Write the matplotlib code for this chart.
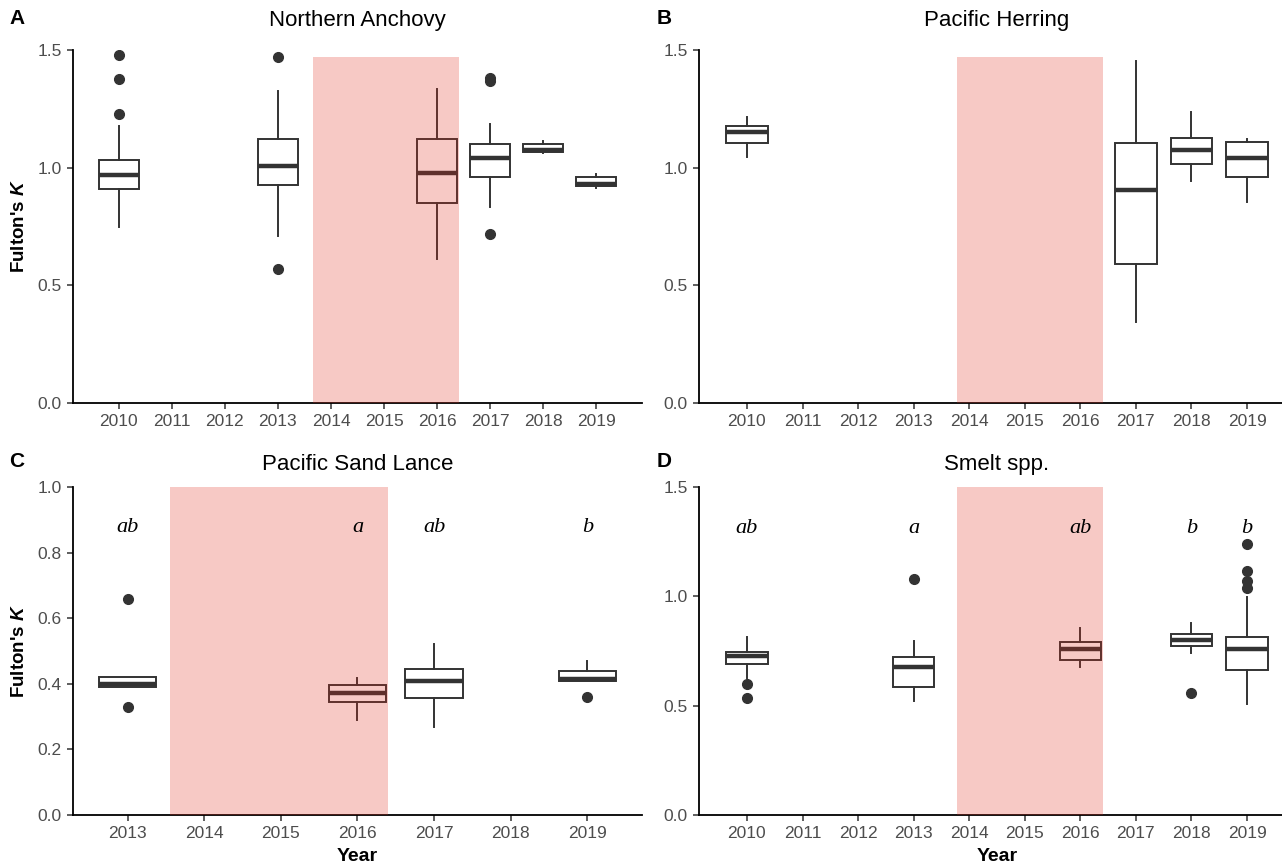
import matplotlib
matplotlib.use("Agg")
import matplotlib.pyplot as plt
from matplotlib.patches import Rectangle

plt.rcParams['font.family'] = ['Liberation Sans', 'DejaVu Sans']
plt.rcParams['mathtext.fontset'] = 'custom'
plt.rcParams['mathtext.bfit'] = 'Liberation Sans:italic:bold'
plt.rcParams['mathtext.it'] = 'Liberation Sans:italic'
plt.rcParams['mathtext.bf'] = 'Liberation Sans:bold'

# ---------------- data ----------------
# A: Northern Anchovy
anch_years = [2010, 2013, 2016, 2017, 2018, 2019]
anch_q1 = [0.910, 0.928, 0.849, 0.959, 1.068, 0.924]
anch_med = [0.969, 1.008, 0.979, 1.039, 1.077, 0.932]
anch_q3 = [1.031, 1.120, 1.120, 1.099, 1.099, 0.961]
anch_lo = [0.749, 0.711, 0.611, 0.831, 1.061, 0.913]
anch_hi = [1.176, 1.327, 1.335, 1.186, 1.115, 0.975]
anch_out = [[1.479, 1.377, 1.228], [1.469, 0.569], [], [1.380, 1.369, 0.720], [], []]

# B: Pacific Herring
herr_years = [2010, 2017, 2018, 2019]
herr_q1 = [1.104, 0.591, 1.014, 0.962]
herr_med = [1.150, 0.907, 1.076, 1.041]
herr_q3 = [1.179, 1.105, 1.125, 1.111]
herr_lo = [1.045, 0.346, 0.945, 0.855]
herr_hi = [1.214, 1.453, 1.235, 1.122]
herr_out = [[], [], [], []]

# C: Pacific Sand Lance
sand_years = [2013, 2016, 2017, 2019]
sand_q1 = [0.390, 0.344, 0.358, 0.409]
sand_med = [0.398, 0.373, 0.410, 0.416]
sand_q3 = [0.420, 0.395, 0.445, 0.440]
sand_lo = [0.390, 0.290, 0.269, 0.409]
sand_hi = [0.420, 0.418, 0.520, 0.469]
sand_out = [[0.659, 0.329], [], [], [0.359]]
sand_letters = ['ab', 'a', 'ab', 'b']

# D: Smelt spp.
smelt_years = [2010, 2013, 2016, 2018, 2019]
smelt_q1 = [0.689, 0.585, 0.711, 0.773, 0.662]
smelt_med = [0.729, 0.679, 0.759, 0.800, 0.759]
smelt_q3 = [0.747, 0.721, 0.792, 0.827, 0.814]
smelt_lo = [0.626, 0.520, 0.679, 0.739, 0.509]
smelt_hi = [0.815, 0.795, 0.856, 0.876, 0.995]
smelt_out = [[0.598, 0.536], [1.077], [], [0.558], [1.238, 1.117, 1.068, 1.038]]
smelt_letters = ['ab', 'a', 'ab', 'b', 'b']

# heatwave shading (x from, x to, top) per panel
shade_A = (2013.67, 2016.42, 1.472)
shade_B = (2013.78, 2016.40, 1.471)
shade_C = (2013.55, 2016.40, 1.0)
shade_D = (2013.78, 2016.40, 1.5)

W, H = 1282, 865
fig = plt.figure(figsize=(W / 100, H / 100), dpi=100)

def px_axes(l, r, t, b):
    return fig.add_axes([l / W, 1 - b / H, (r - l) / W, (b - t) / H])

axA = px_axes(73, 642, 50, 403)
axB = px_axes(699, 1295, 50, 403)
axC = px_axes(73, 642, 487, 815)
axD = px_axes(699, 1295, 487, 815)

box_col = '#333333'

def panel(ax, years, q1, med, q3, lo, hi, out, shade, ymax, yticks, title, tpad):
    stats = []
    for i in range(len(years)):
        stats.append(dict(q1=q1[i], med=med[i], q3=q3[i], whislo=lo[i], whishi=hi[i], fliers=out[i]))
    ax.bxp(stats, positions=years, widths=0.75, showcaps=False, patch_artist=True,
           boxprops=dict(facecolor='white', edgecolor=box_col, linewidth=1.4),
           medianprops=dict(color=box_col, linewidth=3.2, solid_capstyle='butt'),
           whiskerprops=dict(color=box_col, linewidth=1.4),
           flierprops=dict(marker='o', markerfacecolor=box_col, markeredgecolor=box_col, markersize=7))
    # shading drawn on top, as in the original
    ax.add_patch(Rectangle((shade[0], 0), shade[1] - shade[0], shade[2],
                           facecolor='#E32B1B', alpha=0.25, lw=0, zorder=5))
    rng = max(years) - min(years) + 0.75
    ax.set_xlim(min(years) - 0.375 - 0.05 * rng, max(years) + 0.375 + 0.05 * rng)
    ax.set_ylim(0, ymax)
    ax.set_yticks(yticks)
    ax.set_yticklabels(['%.1f' % v for v in yticks])
    allyears = list(range(min(years), max(years) + 1))
    ax.set_xticks(allyears)
    ax.set_xticklabels([str(y) for y in allyears])
    for s in ['top', 'right']:
        ax.spines[s].set_visible(False)
    for s in ['left', 'bottom']:
        ax.spines[s].set_linewidth(1.3)
        ax.spines[s].set_color('black')
    ax.tick_params(axis='both', length=4, width=1.1, color='#333333', labelcolor='#4D4D4D',
                   labelsize=12.5, pad=4)
    ax.set_title(title, fontsize=16, pad=tpad)

panel(axA, anch_years, anch_q1, anch_med, anch_q3, anch_lo, anch_hi, anch_out, shade_A,
      1.5, [0.0, 0.5, 1.0, 1.5], 'Northern Anchovy', 17)
panel(axB, herr_years, herr_q1, herr_med, herr_q3, herr_lo, herr_hi, herr_out, shade_B,
      1.5, [0.0, 0.5, 1.0, 1.5], 'Pacific Herring', 17)
panel(axC, sand_years, sand_q1, sand_med, sand_q3, sand_lo, sand_hi, sand_out, shade_C,
      1.0, [0.0, 0.2, 0.4, 0.6, 0.8, 1.0], 'Pacific Sand Lance', 12)
panel(axD, smelt_years, smelt_q1, smelt_med, smelt_q3, smelt_lo, smelt_hi, smelt_out, shade_D,
      1.5, [0.0, 0.5, 1.0, 1.5], 'Smelt spp.', 12)

# significance letters
for yr, lab in zip(sand_years, sand_letters):
    axC.text(yr, 0.875, lab, ha='center', va='center', fontsize=16, style='italic',
             family='Liberation Serif', zorder=6)
for yr, lab in zip(smelt_years, smelt_letters):
    axD.text(yr, 1.31, lab, ha='center', va='center', fontsize=16, style='italic',
             family='Liberation Serif', zorder=6)

# axis titles
ylab = r"Fulton's $\mathbfit{K}$"
fig.text(20 / W, 1 - 226 / H, ylab, rotation=90, ha='center', va='center',
         fontsize=13.5, fontweight='bold')
fig.text(20 / W, 1 - 651 / H, ylab, rotation=90, ha='center', va='center',
         fontsize=13.5, fontweight='bold')
axC.set_xlabel('Year', fontsize=14, fontweight='bold', labelpad=5)
axD.set_xlabel('Year', fontsize=14, fontweight='bold', labelpad=5)

# panel tags
for lab, x, y in [('A', 17, 19), ('B', 664, 19), ('C', 17, 462), ('D', 664, 462)]:
    fig.text(x / W, 1 - y / H, lab, ha='center', va='center', fontsize=15, fontweight='bold')

fig.savefig('out.png', dpi=100)
